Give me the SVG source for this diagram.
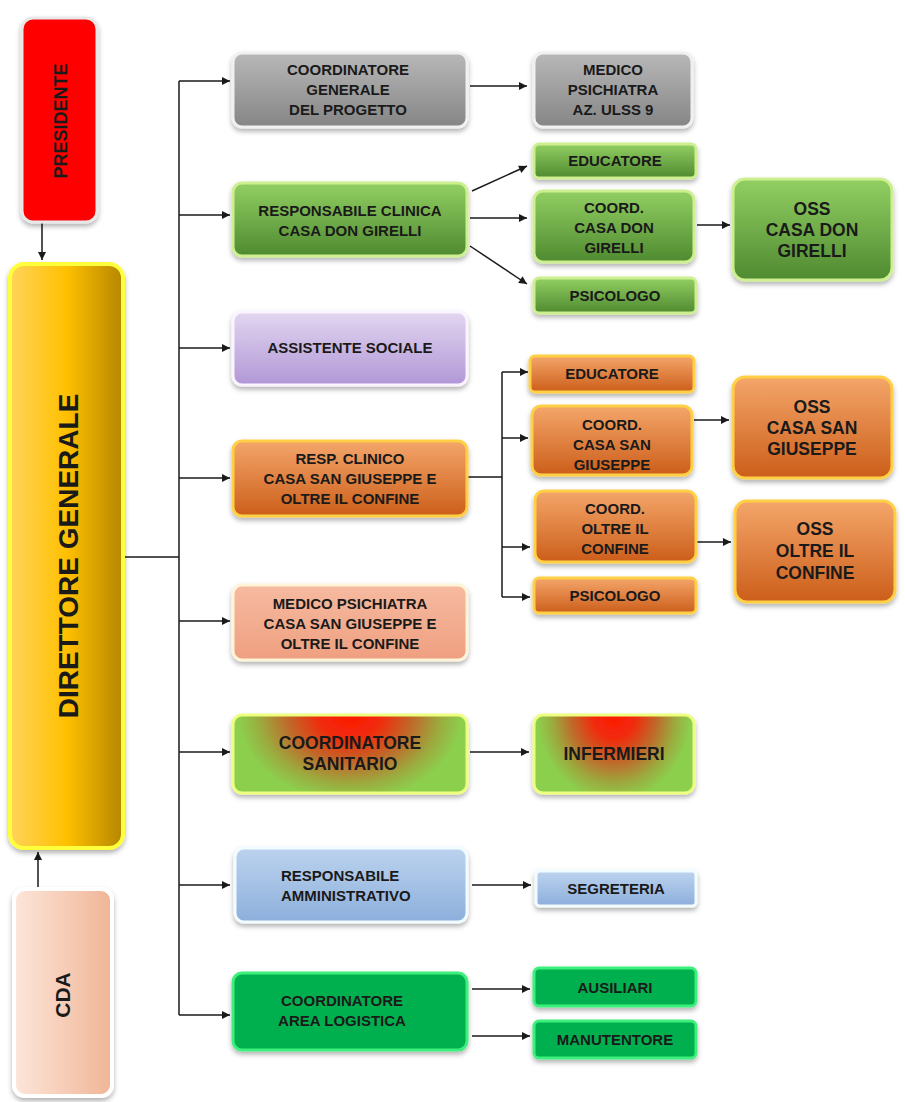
<svg xmlns="http://www.w3.org/2000/svg" width="905" height="1102" viewBox="0 0 905 1102">
<defs>
<style>
text{font-family:"Liberation Sans",Arial,sans-serif;font-weight:bold;fill:#1a1a1a;text-anchor:middle}
.t14{font-size:15px}
.t17{font-size:17.5px}
.con{stroke:#1a1a1a;stroke-width:1.5;fill:none}
.arr{marker-end:url(#ah)}
</style>
<marker id="ah" viewBox="0 0 10 10" refX="10" refY="5" markerWidth="9" markerHeight="8" markerUnits="userSpaceOnUse" orient="auto"><path d="M0,0 L10,5 L0,10 Z" fill="#1a1a1a"/></marker>
<filter id="sh" x="-20%" y="-20%" width="140%" height="150%"><feDropShadow dx="0" dy="3" stdDeviation="2.5" flood-color="#000" flood-opacity="0.3"/></filter>
<linearGradient id="gGray" x1="0" y1="0" x2="0" y2="1"><stop offset="0" stop-color="#b8b8b8"/><stop offset="1" stop-color="#858585"/></linearGradient>
<linearGradient id="gGreen" x1="0" y1="0" x2="0" y2="1"><stop offset="0" stop-color="#92cf62"/><stop offset="1" stop-color="#4f8a30"/></linearGradient>
<linearGradient id="gLav" x1="0" y1="0" x2="0" y2="1"><stop offset="0" stop-color="#e2d6f0"/><stop offset="1" stop-color="#b197d6"/></linearGradient>
<linearGradient id="gOr" x1="0" y1="0" x2="0" y2="1"><stop offset="0" stop-color="#f4a66a"/><stop offset="1" stop-color="#cc5e1a"/></linearGradient>
<linearGradient id="gSal" x1="0" y1="0" x2="0" y2="1"><stop offset="0" stop-color="#f6baa0"/><stop offset="1" stop-color="#ef9f80"/></linearGradient>
<radialGradient id="gSan" cx="0.5" cy="0" r="1" fx="0.5" fy="0" gradientTransform="translate(0.5,0) scale(0.48,1.1) translate(-0.5,0)"><stop offset="0" stop-color="#ff1800"/><stop offset="0.28" stop-color="#f02c0c"/><stop offset="0.55" stop-color="#c0682a"/><stop offset="0.8" stop-color="#9caa3e"/><stop offset="1" stop-color="#8ccf4e"/></radialGradient>
<linearGradient id="gBlue" x1="0" y1="0" x2="0" y2="1"><stop offset="0" stop-color="#bcd3ee"/><stop offset="1" stop-color="#8dafdc"/></linearGradient>
<linearGradient id="gDir" x1="0" y1="0" x2="1" y2="0"><stop offset="0" stop-color="#ffd45a"/><stop offset="0.5" stop-color="#ffc000"/><stop offset="1" stop-color="#b58600"/></linearGradient>
<linearGradient id="gCda" x1="0" y1="0" x2="1" y2="0"><stop offset="0" stop-color="#fde6da"/><stop offset="1" stop-color="#f0b596"/></linearGradient>
</defs>
<rect width="905" height="1102" fill="#ffffff"/>

<g id="connectors">
<path class="con arr" d="M42,222 V260"/>
<path class="con arr" d="M38,888 V852"/>
<path class="con" d="M124,557 H179 M179,81 V1015"/>
<path class="con arr" d="M179,81 H230"/>
<path class="con arr" d="M179,215 H230"/>
<path class="con arr" d="M179,348 H230"/>
<path class="con arr" d="M179,478 H230"/>
<path class="con arr" d="M179,621 H230"/>
<path class="con arr" d="M179,752 H230"/>
<path class="con arr" d="M179,885 H230"/>
<path class="con arr" d="M179,1015 H230"/>
<path class="con arr" d="M470,86 H527"/>
<path class="con arr" d="M472,191 L527,166"/>
<path class="con arr" d="M470,218 H527"/>
<path class="con arr" d="M470,246 L527,284"/>
<path class="con arr" d="M697,225 H730"/>
<path class="con" d="M468,477 H502 M502,372 V597"/>
<path class="con arr" d="M502,372 H528"/>
<path class="con arr" d="M502,438 H528"/>
<path class="con arr" d="M502,547 H530"/>
<path class="con arr" d="M502,597 H530"/>
<path class="con arr" d="M694,420 H729"/>
<path class="con arr" d="M697,542 H731"/>
<path class="con arr" d="M470,752 H529"/>
<path class="con arr" d="M472,885 H531"/>
<path class="con arr" d="M472,989 H530"/>
<path class="con arr" d="M472,1036 H530"/>
</g>

<g id="presidente">
<rect x="22" y="18" width="75" height="204" rx="11" fill="#ff0000" stroke="#e8e8e8" stroke-width="3" filter="url(#sh)"/>
<text transform="translate(67,121) rotate(-90)" style="font-size:18px">PRESIDENTE</text>
</g>

<g id="direttore">
<rect x="10" y="264" width="113" height="584" rx="14" fill="url(#gDir)" stroke="#ffff3a" stroke-width="4" filter="url(#sh)"/>
<text transform="translate(78,556) rotate(-90)" style="font-size:28px">DIRETTORE GENERALE</text>
</g>

<g id="cda">
<rect x="14" y="889" width="98" height="207" rx="11" fill="url(#gCda)" stroke="#ffffff" stroke-width="4" filter="url(#sh)"/>
<text transform="translate(70,995) rotate(-90)" style="font-size:21px">CDA</text>
</g>

<g id="coord-generale">
<rect x="233" y="53" width="234" height="74" rx="9" fill="url(#gGray)" stroke="#f0f0f0" stroke-width="3" filter="url(#sh)"/>
<text class="t14" x="348" y="75">COORDINATORE</text>
<text class="t14" x="348" y="95">GENERALE</text>
<text class="t14" x="348" y="115">DEL PROGETTO</text>
</g>

<g id="medico-ulss">
<rect x="534" y="53" width="158" height="74" rx="9" fill="url(#gGray)" stroke="#f0f0f0" stroke-width="3" filter="url(#sh)"/>
<text class="t14" x="613" y="75">MEDICO</text>
<text class="t14" x="613" y="95">PSICHIATRA</text>
<text class="t14" x="613" y="115">AZ. ULSS 9</text>
</g>

<g id="resp-clinica">
<rect x="233" y="183" width="234" height="73" rx="9" fill="url(#gGreen)" stroke="#cdef90" stroke-width="3" filter="url(#sh)"/>
<text class="t14" x="350" y="216">RESPONSABILE CLINICA</text>
<text class="t14" x="350" y="236">CASA DON GIRELLI</text>
</g>

<g id="educatore-g">
<rect x="534" y="144" width="162" height="34" rx="5" fill="url(#gGreen)" stroke="#cdef90" stroke-width="3" filter="url(#sh)"/>
<text class="t14" x="615" y="166">EDUCATORE</text>
</g>

<g id="coord-girelli">
<rect x="534" y="191" width="160" height="71" rx="9" fill="url(#gGreen)" stroke="#cdef90" stroke-width="3" filter="url(#sh)"/>
<text class="t14" x="614" y="213">COORD.</text>
<text class="t14" x="614" y="233">CASA DON</text>
<text class="t14" x="614" y="253">GIRELLI</text>
</g>

<g id="psicologo-g">
<rect x="534" y="278" width="162" height="35" rx="5" fill="url(#gGreen)" stroke="#cdef90" stroke-width="3" filter="url(#sh)"/>
<text class="t14" x="615" y="301">PSICOLOGO</text>
</g>

<g id="oss-girelli">
<rect x="733" y="179" width="159" height="101" rx="12" fill="url(#gGreen)" stroke="#cdef90" stroke-width="3" filter="url(#sh)"/>
<text class="t17" x="812" y="215">OSS</text>
<text class="t17" x="812" y="236">CASA DON</text>
<text class="t17" x="812" y="257">GIRELLI</text>
</g>

<g id="assistente">
<rect x="233" y="312" width="234" height="73" rx="9" fill="url(#gLav)" stroke="#faf4ff" stroke-width="3" filter="url(#sh)"/>
<text class="t14" x="350" y="353">ASSISTENTE SOCIALE</text>
</g>

<g id="resp-clinico">
<rect x="233" y="441" width="234" height="75" rx="9" fill="url(#gOr)" stroke="#ffd044" stroke-width="3" filter="url(#sh)"/>
<text class="t14" x="350" y="464">RESP. CLINICO</text>
<text class="t14" x="350" y="484">CASA SAN GIUSEPPE E</text>
<text class="t14" x="350" y="504">OLTRE IL CONFINE</text>
</g>

<g id="educatore-o">
<rect x="530" y="356" width="164" height="36" rx="5" fill="url(#gOr)" stroke="#ffd044" stroke-width="3" filter="url(#sh)"/>
<text class="t14" x="612" y="379">EDUCATORE</text>
</g>

<g id="coord-sangiuseppe">
<rect x="532" y="406" width="160" height="69" rx="9" fill="url(#gOr)" stroke="#ffd044" stroke-width="3" filter="url(#sh)"/>
<text class="t14" x="612" y="430">COORD.</text>
<text class="t14" x="612" y="450">CASA SAN</text>
<text class="t14" x="612" y="470">GIUSEPPE</text>
</g>

<g id="coord-oltre">
<rect x="535" y="491" width="161" height="71" rx="9" fill="url(#gOr)" stroke="#ffd044" stroke-width="3" filter="url(#sh)"/>
<text class="t14" x="615" y="514">COORD.</text>
<text class="t14" x="615" y="534">OLTRE IL</text>
<text class="t14" x="615" y="554">CONFINE</text>
</g>

<g id="psicologo-o">
<rect x="534" y="578" width="162" height="35" rx="5" fill="url(#gOr)" stroke="#ffd044" stroke-width="3" filter="url(#sh)"/>
<text class="t14" x="615" y="601">PSICOLOGO</text>
</g>

<g id="oss-sangiuseppe">
<rect x="733" y="377" width="159" height="101" rx="12" fill="url(#gOr)" stroke="#ffd044" stroke-width="3" filter="url(#sh)"/>
<text class="t17" x="812" y="413">OSS</text>
<text class="t17" x="812" y="434">CASA SAN</text>
<text class="t17" x="812" y="455">GIUSEPPE</text>
</g>

<g id="oss-oltre">
<rect x="735" y="501" width="160" height="101" rx="12" fill="url(#gOr)" stroke="#ffd044" stroke-width="3" filter="url(#sh)"/>
<text class="t17" x="815" y="535">OSS</text>
<text class="t17" x="815" y="557">OLTRE IL</text>
<text class="t17" x="815" y="579">CONFINE</text>
</g>

<g id="medico-sgoc">
<rect x="233" y="585" width="234" height="75" rx="9" fill="url(#gSal)" stroke="#fff4d8" stroke-width="3" filter="url(#sh)"/>
<text class="t14" x="350" y="609">MEDICO PSICHIATRA</text>
<text class="t14" x="350" y="629">CASA SAN GIUSEPPE E</text>
<text class="t14" x="350" y="649">OLTRE IL CONFINE</text>
</g>

<g id="coord-sanitario">
<rect x="233" y="715" width="234" height="78" rx="9" fill="url(#gSan)" stroke="#eeff80" stroke-width="3" filter="url(#sh)"/>
<text class="t17" x="350" y="749">COORDINATORE</text>
<text class="t17" x="350" y="770">SANITARIO</text>
</g>

<g id="infermieri">
<rect x="534" y="715" width="160" height="78" rx="9" fill="url(#gSan)" stroke="#eeff80" stroke-width="3" filter="url(#sh)"/>
<text class="t17" x="614" y="760">INFERMIERI</text>
</g>

<g id="resp-amm">
<rect x="235" y="848" width="232" height="74" rx="9" fill="url(#gBlue)" stroke="#f2fbff" stroke-width="3" filter="url(#sh)"/>
<text class="t14" x="281" y="881" style="text-anchor:start">RESPONSABILE</text>
<text class="t14" x="281" y="901" style="text-anchor:start">AMMINISTRATIVO</text>
</g>

<g id="segreteria">
<rect x="536" y="871" width="160" height="35" rx="4" fill="url(#gBlue)" stroke="#f2fbff" stroke-width="3" filter="url(#sh)"/>
<text class="t14" x="616" y="894">SEGRETERIA</text>
</g>

<g id="coord-logistica">
<rect x="233" y="973" width="234" height="77" rx="9" fill="#00b050" stroke="#3cf07c" stroke-width="3" filter="url(#sh)"/>
<text class="t14" x="342" y="1006">COORDINATORE</text>
<text class="t14" x="342" y="1026">AREA LOGISTICA</text>
</g>

<g id="ausiliari">
<rect x="534" y="968" width="162" height="38" rx="5" fill="#00b050" stroke="#3cf07c" stroke-width="3" filter="url(#sh)"/>
<text class="t14" x="615" y="993">AUSILIARI</text>
</g>

<g id="manutentore">
<rect x="534" y="1021" width="162" height="37" rx="5" fill="#00b050" stroke="#3cf07c" stroke-width="3" filter="url(#sh)"/>
<text class="t14" x="615" y="1045">MANUTENTORE</text>
</g>
</svg>
